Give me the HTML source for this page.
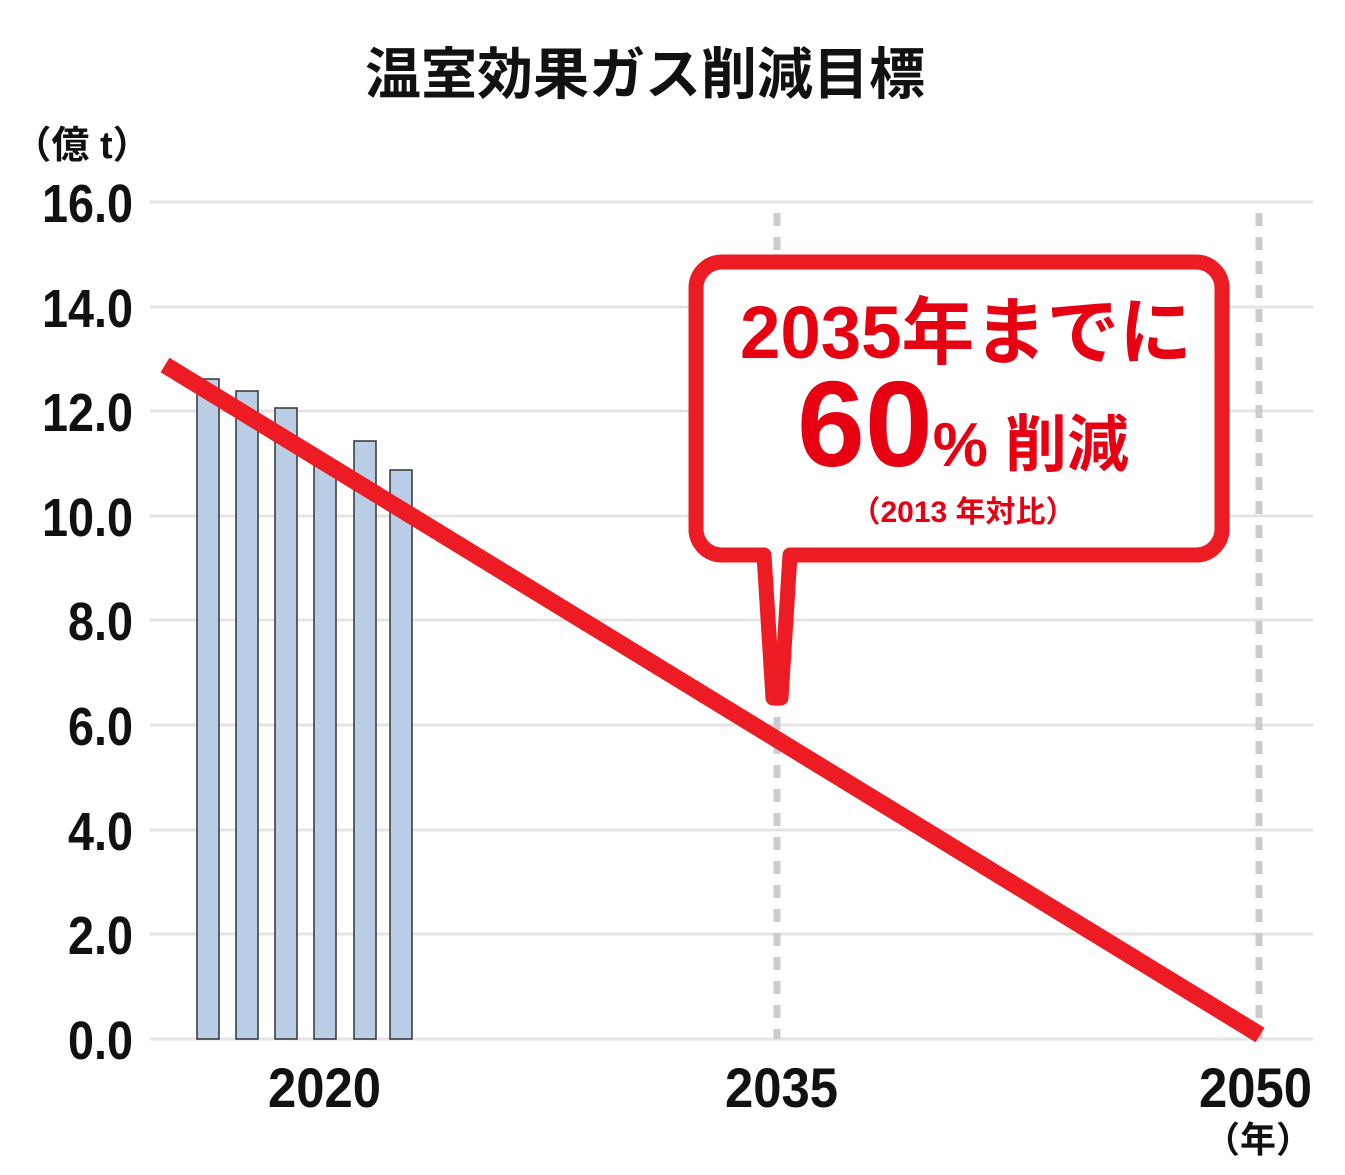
<!DOCTYPE html>
<html><head><meta charset="utf-8"><style>
html,body{margin:0;padding:0;background:#fff;}
svg{display:block;}
text{font-family:"Liberation Sans","Noto Sans CJK JP",sans-serif;}
</style></head><body>
<svg width="1345" height="1175" viewBox="0 0 1345 1175">
<text x="645" y="94" text-anchor="middle" font-size="56" font-weight="bold" fill="#111" textLength="560" lengthAdjust="spacingAndGlyphs">温室効果ガス削減目標</text>
<text x="82" y="158" text-anchor="middle" font-size="38" font-weight="bold" fill="#111">（億 t）</text>
<g stroke="#e4e4e4" stroke-width="3">
<line x1="150" y1="202" x2="1313" y2="202"/><line x1="150" y1="307" x2="1313" y2="307"/>
<line x1="150" y1="411" x2="1313" y2="411"/><line x1="150" y1="516" x2="1313" y2="516"/>
<line x1="150" y1="620" x2="1313" y2="620"/><line x1="150" y1="725" x2="1313" y2="725"/>
<line x1="150" y1="830" x2="1313" y2="830"/><line x1="150" y1="934" x2="1313" y2="934"/>
<line x1="150" y1="1039" x2="1313" y2="1039"/>
</g>
<g font-size="54" font-weight="bold" fill="#111" lengthAdjust="spacingAndGlyphs">
<text x="42" y="222" textLength="91" lengthAdjust="spacingAndGlyphs">16.0</text>
<text x="42" y="327" textLength="91" lengthAdjust="spacingAndGlyphs">14.0</text>
<text x="42" y="431" textLength="91" lengthAdjust="spacingAndGlyphs">12.0</text>
<text x="42" y="536" textLength="91" lengthAdjust="spacingAndGlyphs">10.0</text>
<text x="68" y="640" textLength="65" lengthAdjust="spacingAndGlyphs">8.0</text>
<text x="68" y="745" textLength="65" lengthAdjust="spacingAndGlyphs">6.0</text>
<text x="68" y="850" textLength="65" lengthAdjust="spacingAndGlyphs">4.0</text>
<text x="68" y="954" textLength="65" lengthAdjust="spacingAndGlyphs">2.0</text>
<text x="68" y="1059" textLength="65" lengthAdjust="spacingAndGlyphs">0.0</text>
</g>
<g stroke="#ccc" stroke-width="7" stroke-dasharray="13 11">
<line x1="777" y1="213" x2="777" y2="1039"/><line x1="1259" y1="213" x2="1259" y2="1039"/>
</g>
<g fill="#bacfe6" stroke="#333" stroke-width="1.5">
<rect x="197" y="379" width="22" height="660"/><rect x="236" y="391" width="22" height="648"/>
<rect x="275" y="408" width="22" height="631"/><rect x="314" y="462" width="22" height="577"/>
<rect x="354" y="441" width="22" height="598"/><rect x="390" y="470" width="22" height="569"/>
</g>
<line x1="165" y1="365" x2="1260" y2="1035" stroke="#ed1c24" stroke-width="17"/>
<path d="M722,262 H1196 A26,26 0 0 1 1222,288 V529 A26,26 0 0 1 1196,555 H790 L781,698 H773 L764,555 H722 A26,26 0 0 1 696,529 V288 A26,26 0 0 1 722,262 Z" fill="#fff" stroke="#ed1c24" stroke-width="15" stroke-linejoin="round"/>
<g fill="#e60012" font-weight="bold">
<text x="740" y="358" font-size="74" textLength="452" lengthAdjust="spacingAndGlyphs">2035年までに</text>
<text x="797" y="466"><tspan font-size="122">60</tspan><tspan font-size="62">% 削減</tspan></text>
<text x="963" y="522" font-size="30" text-anchor="middle">（2013 年対比）</text>
</g>
<g font-size="56" font-weight="bold" fill="#111">
<text x="268" y="1107" textLength="113" lengthAdjust="spacingAndGlyphs">2020</text>
<text x="725" y="1107" textLength="113" lengthAdjust="spacingAndGlyphs">2035</text>
<text x="1199" y="1107" textLength="113" lengthAdjust="spacingAndGlyphs">2050</text>
</g>
<text x="1258" y="1152" text-anchor="middle" font-size="36" font-weight="bold" fill="#111">（年）</text>
</svg>
</body></html>
